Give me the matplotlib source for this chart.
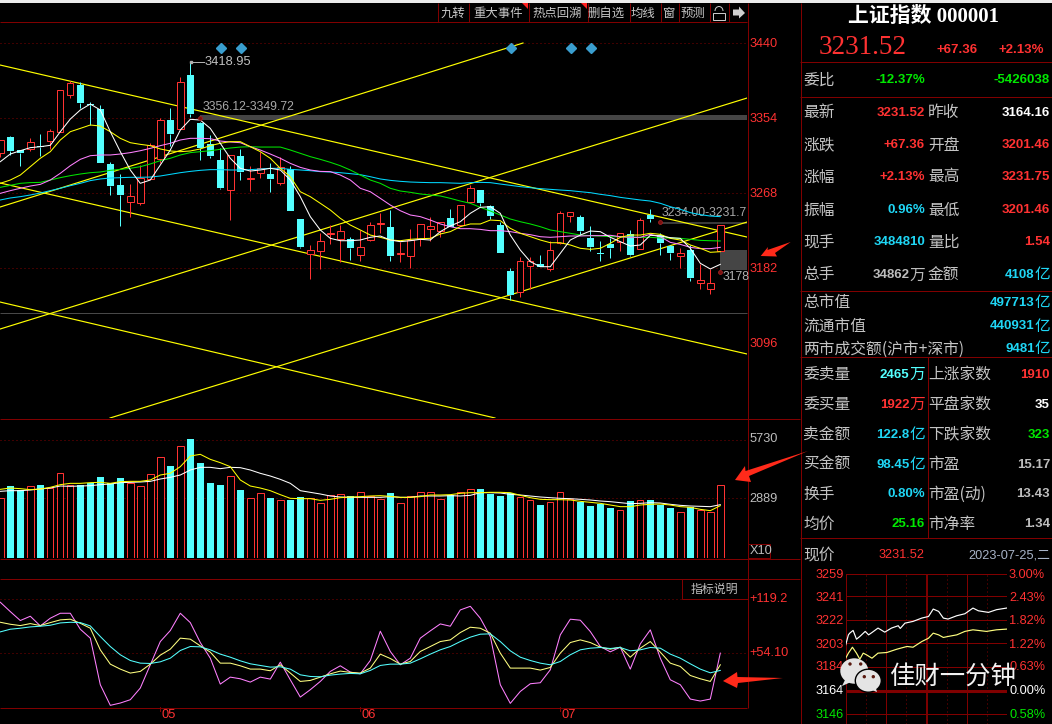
import matplotlib
matplotlib.use("Agg")
import matplotlib.pyplot as plt
from matplotlib.patches import Rectangle, Polygon, Ellipse, Arc

plt.rcParams['font.family'] = ['Liberation Sans', 'Noto Sans CJK SC']

# ---------- price panel data ----------
opens = [3313.9,3332.2,3318.1,3318.9,3321.9,3328.4,3338.7,3381.2,3392.2,3369.7,3364.7,3301.7,3277.6,3257.7,3257.3,3284.1,3307.8,3351.7,3342.2,3403.7,
         3348.7,3324.6,3305.9,3271.5,3310.8,3284.1,3291.0,3290.2,3280.3,3295.5,3238.6,3198.5,3201.5,3221.4,3216.0,3216.0,3197.7,3214.1,3233.2,3229.4,
         3198.5,3196.5,3215.7,3227.5,3224.8,3239.7,3231.7,3258.1,3271.5,3253.5,3231.3,3179.0,3155.3,3185.1,3187.0,3180.9,3210.7,3242.4,3240.9,3216.8,
         3198.5,3209.9,3211.8,3221.4,3204.2,3242.8,3219.9,3207.6,3196.5,3203.0,3165.6,3158.7,3201.46]
highs = [3329.2,3333.8,3318.1,3331.1,3335.7,3341.4,3386.1,3396.8,3395.3,3372.4,3368.9,3303.9,3290.2,3278.7,3300.5,3325.4,3354.4,3365.9,3401.0,3418.95,
         3349.4,3334.9,3319.6,3311.6,3318.9,3299.4,3315.4,3303.2,3309.3,3299.7,3238.6,3208.8,3222.2,3231.3,3231.7,3218.3,3226.0,3234.8,3245.1,3248.9,
         3212.6,3227.1,3232.9,3240.5,3234.8,3250.1,3254.3,3277.6,3271.5,3254.3,3235.5,3182.0,3195.4,3195.4,3197.3,3213.7,3247.8,3247.0,3243.2,3230.6,
         3213.4,3216.4,3222.2,3226.0,3239.4,3249.7,3222.2,3208.8,3205.0,3208.8,3187.0,3181.6,3231.75]
lows = [3310.1,3311.6,3299.7,3316.6,3311.2,3318.5,3337.9,3377.3,3365.5,3346.4,3303.2,3266.1,3230.9,3241.3,3255.0,3284.1,3302.4,3322.7,3342.2,3355.2,
        3306.2,3308.9,3273.0,3237.4,3283.3,3270.7,3286.0,3269.9,3277.6,3248.1,3205.7,3170.2,3181.3,3210.3,3189.7,3191.6,3190.4,3213.7,3222.9,3190.4,
        3189.7,3182.8,3207.6,3213.7,3217.6,3229.8,3231.7,3258.1,3253.9,3238.6,3199.6,3145.7,3149.5,3158.3,3183.2,3179.4,3210.3,3235.5,3220.2,3202.3,
        3190.4,3193.5,3202.3,3196.2,3204.2,3235.5,3197.3,3191.6,3182.0,3167.5,3158.3,3153.0,3201.46]
closes = [3329.2,3316.9,3314.7,3327.3,3321.1,3339.1,3386.1,3394.2,3371.6,3368.9,3303.2,3276.8,3266.5,3264.6,3285.2,3323.4,3351.7,3336.1,3395.3,3359.0,
          3320.4,3311.2,3274.1,3311.6,3292.9,3285.2,3297.5,3284.5,3297.8,3248.1,3206.9,3202.7,3213.0,3222.2,3225.2,3205.7,3206.1,3231.3,3234.0,3196.5,
          3199.2,3214.5,3232.9,3230.2,3234.8,3229.8,3254.3,3273.8,3256.9,3242.0,3199.6,3151.5,3190.1,3190.1,3183.2,3202.7,3245.1,3246.2,3224.8,3206.5,
          3198.1,3205.7,3222.2,3197.3,3237.1,3239.0,3211.4,3199.6,3199.2,3170.9,3168.3,3164.8,3231.52]
ma_white = [3304.3,3313.1,3316.9,3320.4,3321.5,3323.1,3338.7,3353.2,3363.6,3370.4,3363.6,3338.7,3315.8,3294.8,3279.5,3283.3,3300.5,3317.7,3340.6,3352.9,
            3352.1,3342.5,3325.4,3308.2,3296.7,3293.6,3294.8,3296.7,3294.8,3283.3,3264.2,3241.3,3226.0,3216.4,3213.7,3213.7,3214.5,3217.6,3219.1,3214.5,
            3212.6,3213.7,3215.3,3214.5,3224.1,3230.6,3235.5,3245.1,3252.0,3252.7,3245.1,3220.2,3203.0,3189.7,3183.9,3183.9,3199.2,3214.5,3220.2,3224.8,
            3224.1,3217.6,3212.6,3207.6,3208.8,3219.9,3219.1,3217.2,3216.4,3205.0,3187.8,3181.3,3186.6]
ma_yellow = [3279.5,3283.3,3289.0,3298.6,3308.2,3315.8,3329.2,3338.7,3342.5,3346.4,3345.2,3338.7,3331.1,3326.1,3324.2,3322.7,3318.9,3316.6,3315.8,3316.6,
             3318.9,3322.7,3325.4,3327.3,3327.3,3321.5,3315.8,3308.2,3296.7,3287.1,3269.9,3264.2,3256.6,3248.9,3239.4,3231.7,3226.0,3220.2,3217.6,3214.5,
             3213.7,3215.3,3216.0,3216.4,3221.4,3224.1,3229.8,3232.9,3232.9,3237.4,3236.7,3227.9,3222.2,3218.4,3214.5,3211.4,3211.4,3208.8,3205.0,3203.8,
             3205.0,3210.7,3217.6,3220.2,3220.2,3222.2,3221.0,3216.4,3214.5,3208.8,3205.0,3200.4,3201.1]
ma_pink = [3268.0,3271.1,3273.8,3276.4,3278.3,3283.3,3291.0,3299.7,3307.0,3311.2,3312.0,3312.0,3313.1,3314.7,3316.9,3319.6,3322.7,3325.4,3329.2,3331.1,
           3331.1,3330.7,3328.0,3326.9,3326.1,3321.5,3317.7,3313.1,3308.2,3302.4,3297.8,3294.8,3293.2,3292.9,3289.0,3283.3,3273.8,3269.9,3262.3,3254.6,
           3248.1,3243.2,3241.3,3237.4,3232.9,3229.8,3227.5,3227.5,3226.7,3225.2,3225.2,3224.1,3222.2,3220.6,3218.3,3217.6,3218.3,3219.1,3219.1,3219.5,
           3219.5,3219.9,3218.3,3217.6,3217.6,3221.0,3218.3,3211.8,3209.5,3206.1,3204.6,3204.6,3206.1]
ma_green = [3274.9,3277.2,3279.5,3280.3,3280.6,3283.3,3286.0,3288.3,3290.2,3291.7,3292.5,3294.4,3295.5,3296.7,3298.6,3301.7,3305.5,3308.2,3312.0,3314.7,
            3315.8,3316.9,3318.5,3320.0,3321.1,3321.5,3321.1,3321.1,3321.1,3317.7,3313.9,3310.1,3307.0,3303.6,3299.7,3294.8,3289.0,3283.3,3279.5,3273.8,
            3270.7,3269.2,3267.3,3266.1,3265.0,3262.3,3259.2,3256.6,3252.0,3247.8,3243.2,3238.6,3235.5,3232.9,3229.8,3226.0,3224.1,3222.2,3220.2,3219.5,
            3219.1,3218.3,3218.3,3217.6,3217.6,3217.6,3216.8,3216.8,3216.4,3215.3,3214.1,3213.7,3213.4]
ma_cyan = [3260.4,3262.7,3264.2,3266.1,3268.4,3271.1,3273.8,3276.8,3279.5,3282.6,3284.5,3285.6,3286.0,3286.4,3286.4,3286.7,3287.9,3289.8,3291.7,3293.2,
           3294.4,3295.2,3295.2,3294.8,3294.8,3295.2,3295.9,3296.7,3296.7,3295.5,3294.8,3294.0,3292.9,3292.5,3291.7,3290.6,3289.4,3287.1,3284.5,3282.9,
           3281.8,3281.0,3280.6,3280.3,3280.3,3279.9,3279.5,3280.3,3280.6,3280.3,3278.7,3277.2,3275.7,3274.5,3273.4,3272.6,3271.8,3271.1,3269.9,3268.8,
           3266.9,3265.4,3263.4,3261.9,3260.4,3259.2,3256.6,3252.7,3249.7,3245.9,3243.6,3242.0,3241.3]
trend_lines = [(-0.03,3415.2,74.67,3217.9),(-0.03,3279.9,74.67,3083.8),(-0.03,3143.4,49.47,3010.4),
               (-0.03,3252.3,52.27,3440.4),(-0.03,3112.4,74.67,3377.3),(10.97,3010.4,74.67,3235.1)]
price_ticks = [3440,3354,3268,3182]
price_labels = ['3440','3354','3268','3182','3096']
price_label_vals = [3440,3354,3268,3182,3096]
diamond_idx = [22.1,24.1,51.1,57.1,59.1]
diamond_price = 3435.0

# ---------- volume panel data ----------
volumes = [2889,3486,3293,3470,3535,3406,4100,3519,3535,3615,3922,3615,3874,3615,3470,4051,4874,4455,5407,5746,
           4600,3632,3535,3954,3293,2889,3131,2905,2792,2808,2937,2889,2647,3034,3083,3002,3180,3002,2857,3147,
           2647,2986,3180,3180,2857,3034,3180,3325,3341,3099,3002,3131,2937,2792,2566,2695,3180,2841,2712,2518,
           2615,2421,2308,2760,2792,2808,2566,2421,2211,2469,2308,2211,3519]
vol_yellow = [3325,3389,3357,3309,3341,3422,3551,3615,3615,3648,3664,3615,3696,3712,3712,3777,4019,4100,4422,4939,
              5020,4777,4616,4422,3777,3486,3389,3260,3067,2889,2873,2873,2792,2841,2921,2954,2970,3002,3018,2986,
              2937,2937,2970,3050,3050,3067,3131,3163,3163,3180,3180,3163,3034,2921,2841,2825,2825,2808,2744,2695,
              2647,2566,2486,2486,2566,2599,2615,2566,2486,2453,2356,2292,2534]
vol_white = [3228,3260,3260,3293,3341,3389,3486,3470,3486,3502,3551,3583,3648,3664,3680,3712,3825,3906,4019,4261,
             4390,4390,4326,4390,4374,4261,4100,3970,3809,3615,3260,3180,3099,3002,2954,2937,2937,2937,2937,2970,
             2937,2937,3002,3002,3002,3018,3002,3034,3163,3163,3147,3083,3050,3002,2954,2921,2889,2873,2841,2808,
             2760,2728,2679,2631,2647,2679,2663,2599,2550,2518,2502,2486,2582]
vol_ticks = [5730,2889]

# ---------- indicator panel data ----------
ind_pink = [115.6,104.3,93.5,98.7,87.0,96.3,102.3,102.3,83.0,72.2,15.9,-9.0,-6.2,-2.2,11.9,40.0,68.1,81.4,102.3,91.0,
            66.9,48.0,16.7,25.1,23.1,19.1,25.1,22.7,43.2,21.9,1.0,9.9,19.9,32.0,38.8,31.2,29.1,45.2,80.6,56.1,
            40.0,48.0,72.2,81.0,89.4,86.6,106.3,110.7,96.3,74.2,15.9,-6.6,7.8,17.1,18.3,34.0,76.2,95.1,93.9,80.2,
            62.1,55.7,61.3,34.8,65.3,82.2,48.0,21.9,15.9,-1.4,-3.8,-1.4,54.1]
ind_yellow = [91.4,89.0,87.4,89.8,87.4,91.0,94.3,95.1,90.2,84.2,58.1,40.8,34.8,30.0,32.0,40.8,51.7,58.9,72.2,71.0,
              62.9,55.3,42.0,42.0,38.8,34.8,34.8,32.8,40.0,30.0,19.9,21.1,25.1,29.1,32.4,30.8,30.0,36.0,52.9,47.6,
              40.8,44.0,56.1,62.1,68.1,70.1,79.0,85.4,84.2,78.2,54.1,36.0,36.0,36.0,33.6,36.8,54.1,66.9,70.1,66.9,
              61.3,58.9,61.3,49.2,60.1,68.1,55.3,42.0,38.0,27.1,23.1,19.9,40.0]
ind_cyan = [79.8,83.0,84.2,85.8,86.6,87.8,90.6,91.4,91.0,87.0,74.2,62.1,52.1,45.2,42.0,41.6,43.6,48.0,57.3,62.1,
            61.7,58.1,52.9,49.2,44.8,41.2,39.2,37.2,37.6,34.8,27.9,25.9,25.5,27.5,28.8,29.6,29.1,33.2,39.2,40.8,
            40.8,42.0,47.2,52.9,58.1,62.1,68.1,73.4,77.0,77.4,68.1,56.9,49.2,45.2,42.0,40.0,44.0,52.1,58.1,60.1,
            60.9,59.7,60.9,56.9,58.1,60.9,60.1,52.9,48.0,41.2,34.8,30.3,33.2]
ind_ticks = [119.2,54.10]
month_idx = [16,36,56]
month_labels = ['05','06','07']

# ---------- intraday mini chart data ----------
mini_w_t = [0,4,6,11,16,21,29,34,39,48,58,68,78,81,88,100,113,123,130,138,145,152,165,177,189,197,212,224,240]
mini_w_p = [3201.6,3209.7,3211.1,3213.3,3206.2,3208.4,3212.5,3209.7,3211.6,3215.2,3211.9,3215.2,3217.1,3214.9,3219.2,3220.6,3223.3,3224.6,3230.6,3228.7,3223.3,3222.5,3225.2,3226.8,3231.4,3229.2,3227.9,3230.1,3231.5]
mini_y_t = [0,4,10,16,21,26,31,39,48,61,76,91,100,113,123,130,138,145,152,165,177,189,209,224,240]
mini_y_p = [3190.8,3194.9,3199.7,3194.9,3190.0,3194.9,3193.5,3190.8,3194.9,3195.4,3198.1,3200.3,3199.7,3204.3,3207.0,3211.1,3209.7,3207.6,3208.4,3209.7,3212.5,3213.8,3212.5,3213.8,3214.4]
mini_levels = [3259,3241,3222,3203,3184,3164,3146]
mini_left = ['3259','3241','3222','3203','3184','3164','3146']
mini_right = ['3.00%','2.43%','1.82%','1.22%','0.63%','0.00%','0.58%']

# ---------- quote table data ----------
rows_top_y = [113,145,177,210,242,275]
rows_top_l = ['最新','涨跌','涨幅','振幅','现手','总手']
rows_top_v = ['3231.52','+67.36','+2.13%','0.96%','3484810','34862']
rows_top_c = ['red','red','red','sky','sky','gray']
rows_top_u = ['','','','','','万']
rows_top_l2 = ['昨收','开盘','最高','最低','量比','金额']
rows_top_v2 = ['3164.16','3201.46','3231.75','3201.46','1.54','4108']
rows_top_c2 = ['white','red','red','red','red','sky']
rows_top_u2 = ['','','','','','亿']
rows_mid_y = [303,326,349]
rows_mid_l = ['总市值','流通市值','两市成交额(沪市+深市)']
rows_mid_v = ['497713','440931','9481']
rows_low_y = [374.5,404.5,434.5,464.5,494,524]
rows_low_l = ['委卖量','委买量','卖金额','买金额','换手','均价']
rows_low_v = ['2465','1922','122.8','98.45','0.80%','25.16']
rows_low_c = ['cyan','red','sky','sky','sky','green']
rows_low_u = ['万','万','亿','亿','','']
rows_low_l2 = ['上涨家数','平盘家数','下跌家数','市盈','市盈(动)','市净率']
rows_low_v2 = ['1910','35','323','15.17','13.43','1.34']
rows_low_c2 = ['red','white','green','gray','gray','gray']
tool_labels = ['九转','重大事件','热点回溯','删自选','均线','窗','预测']

W, H = 1052, 724
BG = '#000000'; DR = '#800000'; RED = '#ff3232'; CY = '#54ffff'; GR = '#bdbdbd'
PX = 0.72
COL = dict(red=RED, sky='#1fd6f5', gray='#bdbdbd', white='#ffffff', cyan='#54ffff', green='#00e800')
BOLD = dict(family=['Liberation Sans','Noto Sans CJK SC'], weight='bold', fontsize=9.5)
CJK = dict(family=['Noto Sans CJK SC','DejaVu Sans'], color='#c4c4c4', fontsize=11.3)

fig = plt.figure(figsize=(W/100, H/100), dpi=100, facecolor=BG)

def px_axes(l, t, r, b, z=1):
    a = fig.add_axes([l/W, 1-b/H, (r-l)/W, (b-t)/H], zorder=z)
    a.patch.set_alpha(0)
    a.set_axis_off()
    return a

ov = px_axes(0, 0, W, H, 0)
ov.set_xlim(0, W); ov.set_ylim(H, 0)
tp = px_axes(0, 0, W, H, 6)
tp.set_xlim(0, W); tp.set_ylim(H, 0)

def hl(y, x0, x1, c=DR, lw=PX):
    ov.plot([x0, x1], [y, y], color=c, lw=lw, solid_capstyle='butt')
def vl(x, y0, y1, c=DR, lw=PX):
    ov.plot([x, x], [y0, y1], color=c, lw=lw, solid_capstyle='butt')

# frame
ov.add_patch(Rectangle((0, 0), W, 3, fc='#ececec', ec='none'))
hl(22.4, 0, 747); hl(418.5, 0, 800); hl(558.5, 0, 800); hl(578.5, 0, 800); hl(707.5, 0, 747)
vl(747.5, 3, 707.5); vl(800.5, 3, H)
hl(62.4, 800, W); hl(96.6, 800, W); hl(290.6, 800, W); hl(357, 800, W); hl(538, 800, W)
vl(927.5, 357, 538)
hl(313, 0, 747, c='#484848')

# toolbar
for x in [437,468,528,587,629,660,678,709,728]:
    vl(x+0.5, 3, 22)
for x, s in zip([453,498,557,606,642.5,668.5,693], tool_labels):
    ov.text(x, 13.2, s, ha='center', va='center', family=['Noto Sans CJK SC'], color='#c8c8c8', fontsize=8.9)
for x in [528, 587]:
    ov.add_patch(Polygon([(x-6, 3), (x, 3), (x, 9)], fc='#ff2020', ec='none'))
ov.add_patch(Rectangle((713, 13), 12, 7, fc='none', ec='#c8c8c8', lw=PX))
ov.add_patch(Arc((719, 11), 8, 9, theta1=180, theta2=360, ec='#c8c8c8', lw=PX))
ov.add_patch(Polygon([(733, 9.5), (739, 9.5), (739, 6.5), (745, 13), (739, 18.5), (739, 15.5), (733, 15.5)], fc='#d0d0d0', ec='none'))

# ---------- main price panel ----------
n = len(opens)
xs = list(range(n))
ax = px_axes(0, 22, 747, 418, 1)
ax.set_xlim(-0.03, 74.67); ax.set_ylim(3010.4, 3464.5)
for p in price_ticks:
    ax.plot([-0.03, 74.67], [p, p], color=DR, lw=PX, linestyle=(0, (1, 3)), zorder=1)
ax.add_patch(Rectangle((20, 3351.6), 54.67, 6.4, fc='#454545', ec='none', zorder=1.5))
ax.add_patch(Rectangle((66, 3232.8), 8.67, 2.3, fc='#3a3a3a', ec='none', zorder=1.5))
ax.add_patch(Rectangle((72, 3180.1), 2.67, 22.9, fc='#454545', ec='none', zorder=1.5))
for a, b, c, d in trend_lines:
    ax.plot([a, c], [b, d], color='#ffff00', lw=0.85, zorder=2)
for i in xs:
    o, h, l, c = opens[i], highs[i], lows[i], closes[i]
    top, bot = max(o, c), min(o, c)
    col = RED if c >= o else CY
    ax.plot([i, i], [top, h], color=col, lw=PX, zorder=3, solid_capstyle='butt')
    ax.plot([i, i], [l, bot], color=col, lw=PX, zorder=3, solid_capstyle='butt')
    if c >= o:
        ax.add_patch(Rectangle((i-0.32, bot), 0.64, max(top-bot, 0.8), fc=BG, ec=col, lw=PX, zorder=3, snap=True))
    else:
        ax.add_patch(Rectangle((i-0.35, bot), 0.7, max(top-bot, 1.5), fc=col, ec='none', zorder=3, snap=True))
for y, c in [(ma_cyan, '#00d8ff'), (ma_green, '#00e400'), (ma_pink, '#ff80ff'), (ma_yellow, '#ffff00'), (ma_white, '#ffffff')]:
    ax.plot(xs, y, color=c, lw=0.75, zorder=4)
ax.plot(diamond_idx, [diamond_price]*len(diamond_idx), ls='none', marker='D', ms=5.2, mfc='#3a9ecf', mec='#3a9ecf', zorder=5)
ax.plot([19, 20.4], [3418.95, 3418.95], color='#b0b0b0', lw=PX, zorder=5)
ax.plot([19.1], [3418.95], ls='none', marker='s', ms=2, color='#b0b0b0', zorder=5)
ax.plot([20, 66, 72], [3354.6, 3235, 3178], ls='none', marker='o', ms=2.8, mfc='#7a1010', mec='#a02020', mew=0.6, zorder=5)
ax.text(20.4, 3419.2, '3418.95', color='#c0c0c0', fontsize=9.3, va='center', ha='left', zorder=6)
ov.text(203, 106.5, '3356.12-3349.72', color='#a8a8a8', fontsize=8.8, va='center', ha='left')
ov.text(662, 213, '3234.00-3231.7', color='#a8a8a8', fontsize=8.8, va='center', ha='left')
ov.text(723, 276.5, '3178', color='#b0b0b0', fontsize=8.8, va='center', ha='left')
for v, s in zip(price_label_vals, price_labels):
    y = (3489.7 - v) / 1.1467
    ov.text(749.5, y + 0.5, s, color=RED, fontsize=9.2, va='center', ha='left')

# ---------- volume panel ----------
av = px_axes(0, 418, 747, 558, 1)
av.set_xlim(-0.03, 74.67); av.set_ylim(0, 6779)
for v in vol_ticks:
    av.plot([-0.03, 74.67], [v, v], color=DR, lw=PX, linestyle=(0, (1, 3)), zorder=1)
for i in xs:
    if closes[i] >= opens[i]:
        av.add_patch(Rectangle((i-0.32, 0), 0.64, volumes[i], fc=BG, ec=RED, lw=PX, zorder=2, snap=True))
    else:
        av.add_patch(Rectangle((i-0.35, 0), 0.7, volumes[i], fc=CY, ec='none', zorder=2, snap=True))
av.plot(xs, vol_white, color='#ffffff', lw=0.75, zorder=3)
av.plot(xs, vol_yellow, color='#ffff00', lw=0.75, zorder=3)
ov.text(749.5, 439.5, '5730', color=GR, fontsize=9.2, va='center', ha='left')
ov.text(749.5, 498.7, '2889', color=GR, fontsize=9.2, va='center', ha='left')
ov.add_patch(Rectangle((748, 544), 22, 14, fc='none', ec=DR, lw=PX))
ov.text(749.5, 551.5, 'X10', color=GR, fontsize=9.2, va='center', ha='left')

# ---------- indicator panel ----------
ai = px_axes(0, 578, 747, 707, 1)
ai.set_xlim(-0.03, 74.67); ai.set_ylim(-11, 144.9)
for v in ind_ticks:
    ai.plot([-0.03, 74.67], [v, v], color=DR, lw=PX, linestyle=(0, (1, 3)), zorder=1)
ai.plot(xs, ind_pink, color='#ff80ff', lw=0.75, zorder=2)
ai.plot(xs, ind_yellow, color='#ffff80', lw=0.75, zorder=3)
ai.plot(xs, ind_cyan, color='#54ffff', lw=0.75, zorder=3)
ov.text(749.5, 599.5, '+119.2', color=RED, fontsize=9.2, va='center', ha='left')
ov.text(749.5, 653.5, '+54.10', color=RED, fontsize=9.2, va='center', ha='left')
ov.add_patch(Rectangle((681.5, 578.5), 66, 20, fc='none', ec=DR, lw=PX))
ov.text(714, 589, '指标说明', color='#c0c0c0', fontsize=8.6, ha='center', va='center', family=['Noto Sans CJK SC'])
for i, s in zip(month_idx, month_labels):
    ov.plot([i*10+0.3]*2, [707, 711], color=DR, lw=PX)
    ov.text(i*10+1.5, 715.5, s, color=RED, fontsize=9.3, ha='left', va='center')

# ---------- quote table ----------
ov.text(924, 17, '上证指数 000001', ha='center', va='center', color='#ffffff', fontsize=15, weight='bold',
        family=['Liberation Serif', 'Noto Sans CJK SC'])
ov.text(819, 48, '3231.52', ha='left', va='center', color=RED, fontsize=19.5, family=['Liberation Serif'])
ov.text(978, 50, '+67.36', ha='right', va='center', color=RED, **BOLD)
ov.text(1044, 50, '+2.13%', ha='right', va='center', color=RED, **BOLD)
ov.text(803, 80, '委比', ha='left', va='center', **CJK)
ov.text(925, 80, '-12.37%', ha='right', va='center', color='#00e800', **BOLD)
ov.text(1050, 80, '-5426038', ha='right', va='center', color='#00e800', **BOLD)

def value(x, y, num, col, unit=''):
    if unit:
        ov.text(x, y, unit, ha='right', va='center', color=COL[col], family=['Noto Sans CJK SC'], fontsize=11.3)
        x -= 15.5
    ov.text(x, y, num, ha='right', va='center', color=COL[col], **BOLD)

for y, a, v, c, u, a2, v2, c2, u2 in zip(rows_top_y, rows_top_l, rows_top_v, rows_top_c, rows_top_u,
                                         rows_top_l2, rows_top_v2, rows_top_c2, rows_top_u2):
    ov.text(803, y, a, ha='left', va='center', **CJK)
    value(925, y, v, c, u)
    ov.text(928, y, a2, ha='left', va='center', **CJK)
    value(1050, y, v2, c2, u2)
for y, a, v in zip(rows_mid_y, rows_mid_l, rows_mid_v):
    ov.text(803, y, a, ha='left', va='center', **CJK)
    value(1050, y, v, 'sky', '亿')
for y, a, v, c, u, a2, v2, c2 in zip(rows_low_y, rows_low_l, rows_low_v, rows_low_c, rows_low_u,
                                     rows_low_l2, rows_low_v2, rows_low_c2):
    ov.text(803, y, a, ha='left', va='center', **CJK)
    value(925, y, v, c, u)
    ov.text(928, y, a2, ha='left', va='center', **CJK)
    value(1050, y, v2, c2)

# ---------- intraday mini chart ----------
ov.text(803, 555, '现价', ha='left', va='center', **CJK)
ov.text(902, 555, '3231.52', ha='center', va='center', color=RED, fontsize=9.2)
ov.text(1050, 555, '2023-07-25,二', ha='right', va='center', color='#a8b4c8', fontsize=9.2)
am = px_axes(845.7, 574, 1007.3, 724, 1)
am.set_xlim(0, 240); am.set_ylim(3137.5, 3259)
for k, lev in enumerate(mini_levels):
    am.plot([0, 240], [lev, lev], color=DR, lw=2.2 if lev == 3164 else PX, zorder=1, solid_capstyle='butt')
for t in [0, 60, 120, 180, 240]:
    am.plot([t, t], [3137.5, 3259], color=DR, lw=1.4 if t == 120 else PX, zorder=1)
for t in [30, 90, 150, 210]:
    am.plot([t, t], [3137.5, 3259], color=DR, lw=PX, linestyle=(0, (1, 3)), zorder=1)
am.plot(mini_w_t, mini_w_p, color='#ffffff', lw=0.85, zorder=3)
am.plot(mini_y_t, mini_y_p, color='#ffff80', lw=0.85, zorder=3)
for y, l, r, lev in zip([575, 598, 621.5, 644.5, 667.5, 691.5, 714.5], mini_left, mini_right, mini_levels):
    lc = '#ffffff' if lev == 3164 else ('#00e800' if lev == 3146 else RED)
    ov.text(844, y, l, ha='right', va='center', color=lc, fontsize=9.2)
    ov.text(1009, y, r, ha='left', va='center', color=lc, fontsize=9.2)

# ---------- overlay: watermark and arrows ----------
tp.add_patch(Polygon([(846, 678), (842, 686), (851, 682)], fc='#e4e4e4', ec='none'))
tp.add_patch(Ellipse((854.3, 671), 28, 25.4, fc='#e4e4e4', ec='none'))
tp.add_patch(Ellipse((868.3, 680.7), 26, 23, fc='#e4e4e4', ec='#000000', lw=1))
tp.add_patch(Polygon([(872, 690), (877, 692), (875, 685)], fc='#e4e4e4', ec='none'))
for x, y in [(850, 664), (860.7, 664), (864.3, 676.7), (873.3, 676.7)]:
    tp.add_patch(Ellipse((x, y), 3.4, 3.4, fc='#5a1a10', ec='none'))
tp.text(952.5, 677, '佳财一分钟', ha='center', va='center', color='#f2f2f2', fontsize=18.3,
        family=['Noto Sans CJK SC'], weight='medium')
tp.add_patch(Polygon([(760.7, 256), (768, 247), (767.5, 250), (790.7, 242), (775, 253), (777, 256.5)], fc='#ff2a1a', ec='none'))
tp.add_patch(Polygon([(735, 480), (745, 466), (745.5, 471), (808, 451), (749, 476), (751, 482)], fc='#ff2a1a', ec='none'))
tp.add_patch(Polygon([(723, 681), (737, 672), (737.5, 677), (783, 678), (738, 683), (737, 688)], fc='#ff2a1a', ec='none'))

fig.savefig('out.png', dpi=100, facecolor=BG)
